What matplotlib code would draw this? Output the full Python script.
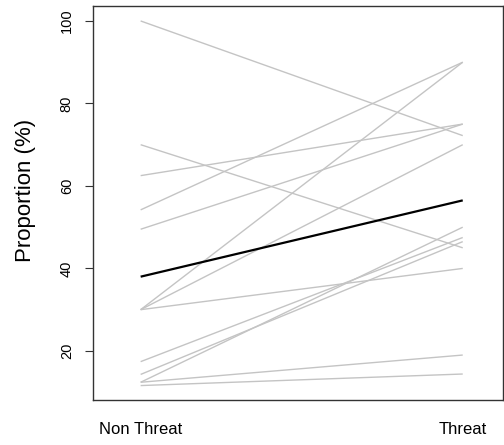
import matplotlib
matplotlib.use("Agg")
import matplotlib.pyplot as plt

plt.rcParams['font.family'] = ['Liberation Sans', 'DejaVu Sans']

conditions = ["Non Threat", "Threat"]
non_threat = [100, 70, 62.5, 54.2, 49.5, 30, 30, 30, 17.4, 14.3, 12.4, 12.4, 11.6]
threat = [72.2, 45, 75, 90, 75, 90, 70, 40, 47.5, 46.5, 50, 19, 14.4]
mean_values = [38.0, 56.5]
y_ticks = [20, 40, 60, 80, 100]

W, H = 504, 445
fig = plt.figure(figsize=(W / 100, H / 100), dpi=100)
ax = fig.add_axes([93.3 / W, 1 - 400 / H, (503 - 93.3) / W, (400 - 5.7) / H])

xs = [1, 2]
for a, b in zip(non_threat, threat):
    ax.plot(xs, [a, b], color='#c4c4c4', linewidth=1.0, solid_capstyle='butt')
ax.plot(xs, mean_values, color='black', linewidth=1.6, solid_capstyle='butt')

ax.set_xlim(0.853, 2.125)
ax.set_ylim(8.1, 103.7)

ax.set_xticks(xs)
ax.set_xticklabels(conditions, fontsize=12)
ax.tick_params(axis='x', length=0, pad=16)

ax.set_yticks(y_ticks)
ax.set_yticklabels([str(t) for t in y_ticks], rotation=90, va='center', fontsize=10.5)
ax.tick_params(axis='y', length=6, width=0.8, pad=8, color='#333333')

for s in ax.spines.values():
    s.set_color('#333333')
    s.set_linewidth(1.0)

fig.text(25 / W, 1 - 190 / H, "Proportion (%)", fontsize=16, rotation=90,
         ha='center', va='center')

fig.savefig("out.png", dpi=100)
